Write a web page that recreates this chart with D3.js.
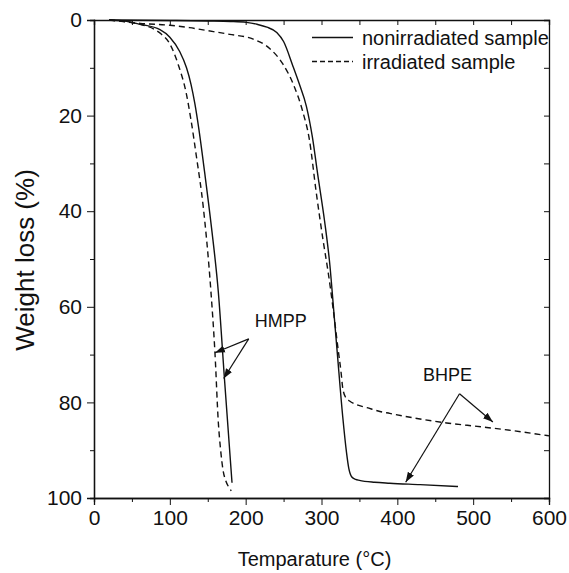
<!DOCTYPE html>
<html>
<head>
<meta charset="utf-8">
<script src="https://cdn.jsdelivr.net/npm/d3@7"></script>
<style>
  body { margin: 0; background: #fff; }
  svg text { font-family: "Liberation Sans", Arial, sans-serif; fill: #111; }
</style>
</head>
<body>
<div id="chart"></div>
<script>
// temperature (°C), weight loss (%)
var hmppNonirr = [[20,0],[40,0.2],[61,0.9],[87,2.0],[100,3.6],[113,6.6],[122,10],[128,13.5],[133,17.5],
  [138,22.5],[146,32],[155,43.5],[164,57],[172,75],[182,96.8]];
var hmppIrr = [[20,0],[40,0.3],[61,0.9],[80,2],[89,3],[100,5],[111,9.3],[122,15.6],[128,21],[135,28.5],
  [144,39],[154,56.4],[159.5,69.6],[164,84.3],[167,90],[170,94],[174,96.5],[178,97.8],[181,98.5]];
var bhpeNonirr = [[20,0],[100,0.1],[150,0.2],[180,0.3],[201,0.5],[215,0.9],[228,1.5],[241,2.6],[250,4.5],
  [262,9.5],[271,13.5],[280,18],[288,24.5],[295,32.3],[304,42],[311,51.2],[316,60.5],[321,70],[328,83],
  [333,90.5],[336,93.8],[340,95.6],[345,96.1],[350,96.3],[370,96.7],[390,96.9],[430,97.2],[480,97.6]];
var bhpeIrr = [[20,0],[61,0.7],[100,1.1],[126,1.6],[149,2.2],[179,3],[210,4],[232,6],[249,9.2],[263,13.5],
  [275,19],[284,25],[293,36],[302,46],[309,53],[315,60],[322,69],[326,74],[328,77],[332,79],[337,79.7],
  [345,80.4],[360,81.1],[377,81.9],[390,82.3],[420,83.2],[465,84.3],[510,85.1],[552,85.9],[600,87]];

var xTicks = [0, 100, 200, 300, 400, 500, 600];
var yTicks = [0, 20, 40, 60, 80, 100];
var legendLabels = ["nonirradiated sample", "irradiated sample"];

// annotation arrows: [apex, tip] in data units
var hmppArrows = [[[204,66.7],[159.5,69.6]], [[204,66.7],[171,75]]];
var bhpeArrows = [[[482,78.2],[411,96.7]], [[482,78.2],[526,84.1]]];

var W = 569, H = 573;
var margin = {left: 94, right: 20, top: 20, bottom: 75};

var svg = d3.select("#chart").append("svg")
    .attr("width", W)
    .attr("height", H);

var x = d3.scaleLinear().domain([0, 600]).range([margin.left, W - margin.right]);
var y = d3.scaleLinear().domain([0, 100]).range([margin.top, H - margin.bottom]);

svg.append("defs").append("marker")
    .attr("id", "head")
    .attr("viewBox", "0 0 10 10")
    .attr("refX", 10).attr("refY", 5)
    .attr("markerWidth", 10).attr("markerHeight", 10)
    .attr("markerUnits", "userSpaceOnUse")
    .attr("orient", "auto")
  .append("path")
    .attr("d", "M0,1.5 L10,5 L0,8.5 Z")
    .attr("fill", "#111");

// axes
svg.append("g")
    .attr("transform", "translate(0," + y(100) + ")")
    .call(d3.axisBottom(x).tickValues(xTicks).tickSize(7).tickPadding(5).tickFormat(d3.format("d")));
svg.append("g")
    .attr("transform", "translate(0," + y(100) + ")")
    .call(d3.axisBottom(x).tickValues(d3.range(50, 600, 100)).tickSize(4).tickFormat(""));
svg.append("g")
    .attr("transform", "translate(" + x(0) + ",0)")
    .call(d3.axisLeft(y).tickValues(yTicks).tickSize(7).tickPadding(5));
svg.append("g")
    .attr("transform", "translate(" + x(0) + ",0)")
    .call(d3.axisLeft(y).tickValues(d3.range(10, 100, 20)).tickSize(4).tickFormat(""));
// mirrored frame, ticks inward
svg.append("g")
    .attr("transform", "translate(0," + y(0) + ")")
    .call(d3.axisBottom(x).tickValues(d3.range(50, 600, 50)).tickSize(5).tickFormat(""));
svg.append("g")
    .attr("transform", "translate(" + x(600) + ",0)")
    .call(d3.axisLeft(y).tickValues(d3.range(10, 100, 10)).tickSize(5).tickFormat(""));

svg.selectAll(".domain").attr("stroke", "#111").attr("stroke-width", 1.3);
svg.selectAll(".tick line").attr("stroke", "#111").attr("stroke-width", 1);
svg.selectAll(".tick text").attr("font-size", 21).attr("fill", "#111")
    .attr("font-family", "Liberation Sans, Arial, sans-serif");

// curves
var line = d3.line()
    .x(function(d) { return x(d[0]); })
    .y(function(d) { return y(d[1]); })
    .curve(d3.curveMonotoneX);

var series = [
  {data: hmppNonirr, dash: null},
  {data: hmppIrr, dash: "6,4"},
  {data: bhpeNonirr, dash: null},
  {data: bhpeIrr, dash: "6,4"}
];
svg.selectAll(".curve").data(series).enter().append("path")
    .attr("class", "curve")
    .attr("d", function(d) { return line(d.data); })
    .attr("fill", "none")
    .attr("stroke", "#111")
    .attr("stroke-width", 1.4)
    .attr("stroke-dasharray", function(d) { return d.dash; });

// arrows
svg.selectAll(".arrow").data(hmppArrows.concat(bhpeArrows)).enter().append("line")
    .attr("class", "arrow")
    .attr("x1", function(d) { return x(d[0][0]); })
    .attr("y1", function(d) { return y(d[0][1]); })
    .attr("x2", function(d) { return x(d[1][0]); })
    .attr("y2", function(d) { return y(d[1][1]); })
    .attr("stroke", "#111")
    .attr("stroke-width", 1.2)
    .attr("marker-end", "url(#head)");

svg.append("text").attr("x", x(212)).attr("y", y(64.3))
    .attr("font-size", 18).text("HMPP");
svg.append("text").attr("x", x(434)).attr("y", y(75.5))
    .attr("font-size", 18).text("BHPE");

// legend
var legend = svg.selectAll(".leg").data(legendLabels).enter().append("g")
    .attr("class", "leg")
    .attr("transform", function(d, i) { return "translate(312," + (37.5 + i * 24) + ")"; });
legend.append("line")
    .attr("x1", 0).attr("x2", 41)
    .attr("stroke", "#111").attr("stroke-width", 1.4)
    .attr("stroke-dasharray", function(d, i) { return i ? "5,3" : null; });
legend.append("text")
    .attr("x", 50).attr("y", 7)
    .attr("font-size", 20)
    .text(function(d) { return d; });

// axis titles
svg.append("text")
    .attr("x", x(300) - 7).attr("y", 566)
    .attr("text-anchor", "middle")
    .attr("font-size", 20)
    .text("Temparature (\u00B0C)");
svg.append("text")
    .attr("transform", "translate(34," + (y(50) + 1) + ") rotate(-90)")
    .attr("text-anchor", "middle")
    .attr("font-size", 26)
    .text("Weight loss (%)");
</script>
</body>
</html>
